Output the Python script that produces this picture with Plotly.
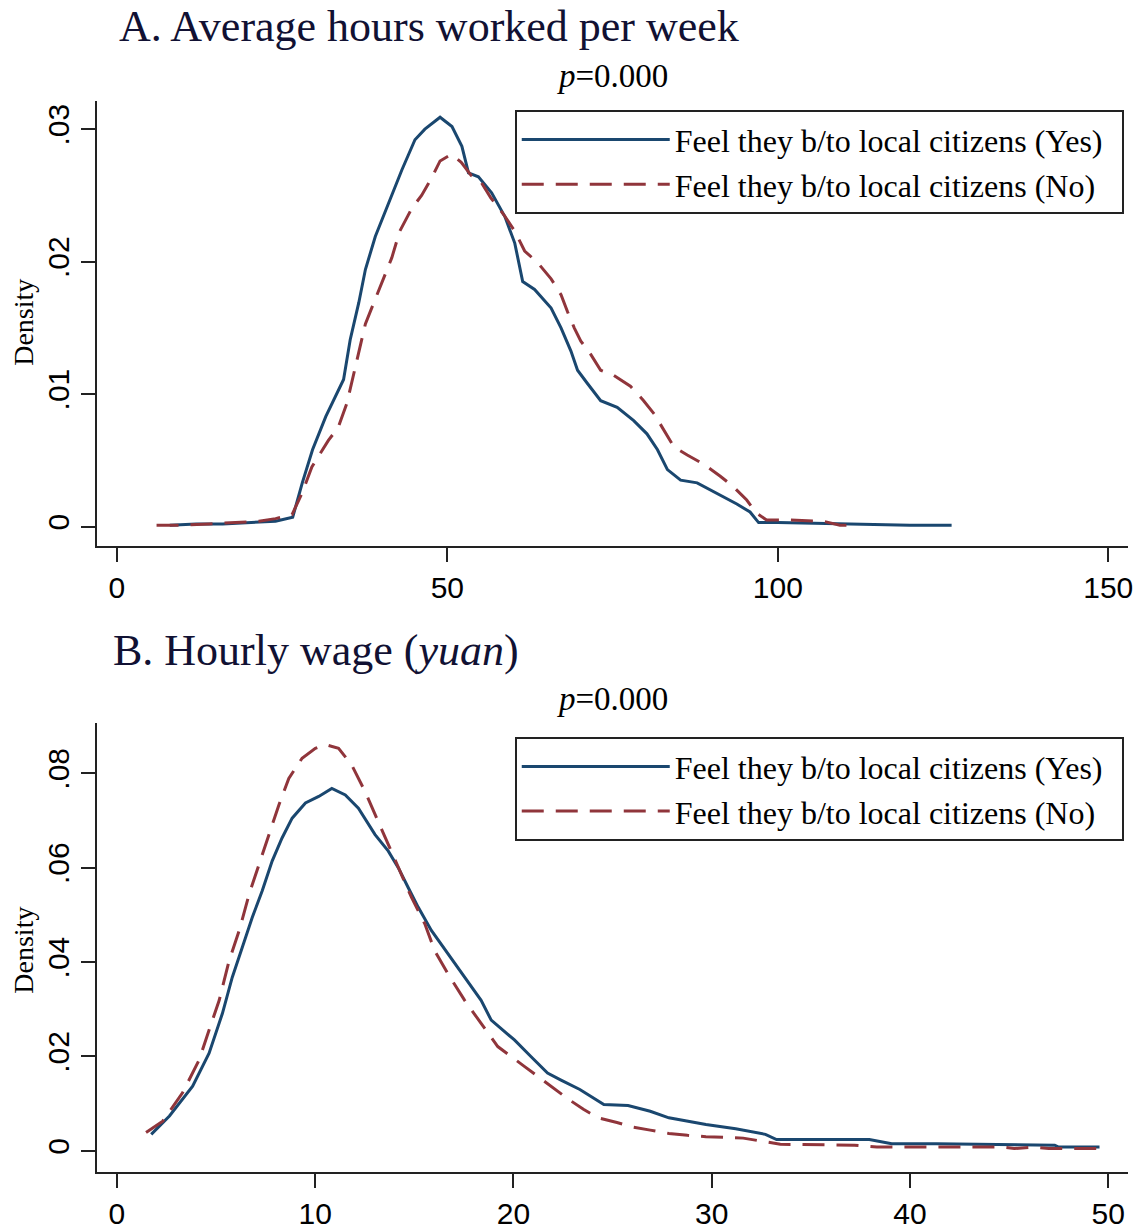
import plotly.graph_objects as go

W, H = 1147, 1230

# ---------------- data ----------------
hours_yes_x = [8, 12, 16, 20, 24, 26.6, 28.05, 29.6, 31.6, 34.3, 35.3, 36.6, 37.6, 39.1, 41.1, 43.1, 45.1,
               46.6, 48.9, 50.7, 52.2, 53.2, 54.7, 56.7, 58.7, 60.2, 61.4, 63.2, 65.7, 67.2, 68.7, 69.7,
               71.2, 73.2, 75.7, 78.2, 80.2, 81.8, 83.3, 85.3, 87.8, 90.8, 93.8, 95.8, 97.1, 100, 110,
               120, 126.3]
hours_yes_y = [0.0001, 0.0002, 0.0002, 0.0003, 0.0004, 0.0007, 0.0033, 0.0058, 0.0083, 0.0111, 0.0141,
               0.0169, 0.0194, 0.0219, 0.0244, 0.0269, 0.0292, 0.0300, 0.0309, 0.0302, 0.0287, 0.0267,
               0.0264, 0.0252, 0.0234, 0.0214, 0.0185, 0.0179, 0.0165, 0.0150, 0.01325, 0.0118, 0.0108,
               0.0095, 0.0090, 0.0080, 0.0070, 0.0058, 0.0043, 0.0035, 0.0033, 0.0025, 0.0017, 0.0011,
               0.0003, 0.0003, 0.0002, 0.0001, 0.0001]

hours_no_x = [6, 10, 14, 18, 21.5, 24, 26.5, 28.0, 29.5, 32.0, 33.5, 34.8, 35.8, 36.6, 37.6, 38.8, 40.6,
              41.6, 42.8, 44.6, 46.1, 47.6, 48.9, 50.6, 52.1, 53.6, 55.1, 56.6, 58.6, 60.2, 61.7, 63.7,
              65.7, 67.2, 68.2, 69.2, 70.2, 71.7, 73.2, 75.2, 77.7, 79.7, 81.3, 82.8, 84.3, 86.3, 88.8,
              91.3, 93.3, 95.3, 96.8, 98.3, 101.3, 106.9, 109.4, 111.9]
hours_no_y = [0.0001, 0.0001, 0.0002, 0.0003, 0.0004, 0.0006, 0.0009, 0.0025, 0.0045, 0.0065, 0.0075,
              0.0093, 0.0115, 0.0133, 0.0153, 0.0168, 0.0190, 0.0203, 0.0223, 0.0240, 0.0250, 0.0263,
              0.0276, 0.0281, 0.0275, 0.0265, 0.0260, 0.0248, 0.0235, 0.0223, 0.0208, 0.0199, 0.0187,
              0.0175, 0.0162, 0.0150, 0.0140, 0.0130, 0.0118, 0.0114, 0.0106, 0.0095, 0.0085, 0.0073,
              0.0060, 0.0054, 0.0047, 0.0038, 0.0030, 0.0020, 0.0010, 0.0005, 0.0005, 0.0004, 0.0001,
              0.0001]

wage_yes_x = [1.73, 2.65, 3.82, 4.65, 5.32, 5.82, 6.33, 6.83, 7.33, 7.83, 8.33, 8.84, 9.51, 10.18, 10.84,
              11.52, 12.18, 13.02, 13.69, 14.19, 14.69, 15.2, 15.86, 16.7, 17.54, 18.37, 18.88, 20.05,
              20.88, 21.72, 22.4, 23.35, 24.56, 25.78, 26.9, 27.84, 29.71, 31.21, 32.71, 33.27, 37.95,
              39.08, 41.33, 47.3, 47.5, 49.56]
wage_yes_y = [0.0035, 0.0074, 0.0137, 0.0207, 0.0291, 0.0368, 0.0432, 0.0495, 0.0551, 0.0614, 0.0663,
              0.0705, 0.0737, 0.0751, 0.0768, 0.0754, 0.0726, 0.0670, 0.0635, 0.0600, 0.0558, 0.0516,
              0.0467, 0.0417, 0.0368, 0.0319, 0.0277, 0.0235, 0.0200, 0.0165, 0.0150, 0.0130, 0.0098,
              0.0096, 0.0084, 0.0070, 0.0056, 0.0047, 0.0035, 0.0024, 0.0024, 0.0015, 0.0015, 0.0012,
              0.0008, 0.0008]

wage_no_x = [1.47, 2.31, 3.31, 4.15, 4.65, 5.16, 5.66, 6.17, 6.67, 7.17, 7.67, 8.17, 8.67, 9.34, 10.01,
             10.51, 11.18, 11.85, 12.52, 13.18, 13.69, 14.19, 14.86, 15.53, 16.03, 16.7, 17.54, 18.37,
             19.21, 20.55, 21.89, 22.79, 23.53, 24.28, 25.22, 25.97, 26.9, 27.84, 28.78, 29.71, 31.59,
             32.71, 33.46, 37.2, 38.33, 44.69, 45.26, 46.3, 47.0, 49.56]
wage_no_y = [0.0039, 0.0063, 0.0123, 0.0193, 0.0256, 0.0319, 0.0403, 0.0467, 0.0544, 0.0607, 0.0670,
             0.0733, 0.0789, 0.0832, 0.0853, 0.0861, 0.0853, 0.0817, 0.0761, 0.0698, 0.0649, 0.0600,
             0.0537, 0.0481, 0.0424, 0.0375, 0.0319, 0.0270, 0.0221, 0.0179, 0.0137, 0.0109, 0.0088,
             0.0070, 0.0060, 0.0051, 0.0044, 0.0037, 0.0033, 0.0030, 0.0027, 0.0019, 0.0014, 0.0012,
             0.0008, 0.0008, 0.0005, 0.0008, 0.0005, 0.0005]

series_names = ["Feel they b/to local citizens (Yes)", "Feel they b/to local citizens (No)"]
hours_xticks = [0, 50, 100, 150]
hours_yticks = [0, 0.01, 0.02, 0.03]
hours_yticklabels = ["0", ".01", ".02", ".03"]
wage_xticks = [0, 10, 20, 30, 40, 50]
wage_yticks = [0, 0.02, 0.04, 0.06, 0.08]
wage_yticklabels = ["0", ".02", ".04", ".06", ".08"]

# ---------------- style ----------------
NAVY = "#1a476f"
MAROON = "#90353b"
SERIF = "Liberation Serif"
SANS = "Liberation Sans"
AXC = "#222222"


def px(xp):
    return xp / W


def py(yp):
    return 1 - yp / H


fig = go.Figure()

fig.add_trace(go.Scatter(x=hours_yes_x, y=hours_yes_y, mode="lines", name=series_names[0],
                         line=dict(color=NAVY, width=3), xaxis="x", yaxis="y", legend="legend"))
fig.add_trace(go.Scatter(x=hours_no_x, y=hours_no_y, mode="lines", name=series_names[1],
                         line=dict(color=MAROON, width=3, dash="22px,12px"), xaxis="x", yaxis="y",
                         legend="legend"))
fig.add_trace(go.Scatter(x=wage_yes_x, y=wage_yes_y, mode="lines", name=series_names[0],
                         line=dict(color=NAVY, width=3), xaxis="x2", yaxis="y2", legend="legend2"))
fig.add_trace(go.Scatter(x=wage_no_x, y=wage_no_y, mode="lines", name=series_names[1],
                         line=dict(color=MAROON, width=3, dash="22px,12px"), xaxis="x2", yaxis="y2",
                         legend="legend2"))

xdom = [px(97.5), px(1133)]
axis_common = dict(showline=True, linecolor=AXC, linewidth=2, ticks="outside", ticklen=14,
                   tickwidth=2, tickcolor=AXC, showgrid=False, zeroline=False,
                   tickfont=dict(family=SANS, size=30, color="black"), mirror=False)

legend_common = dict(xanchor="left", yanchor="top", bordercolor="#222222", borderwidth=2,
                     bgcolor="white", font=dict(family=SERIF, size=32, color="black"),
                     itemwidth=148, tracegroupgap=0, orientation="h", entrywidth=442,
                     entrywidthmode="pixels")

fig.update_layout(
    width=W, height=H,
    margin=dict(l=0, r=0, t=0, b=0),
    paper_bgcolor="white", plot_bgcolor="white",
    xaxis=dict(domain=xdom, anchor="y", range=[-3.0, 153.0], tickvals=hours_xticks, **axis_common),
    yaxis=dict(domain=[py(550), py(102)], anchor="x", range=[-0.0015, 0.0321],
               tickvals=hours_yticks, ticktext=hours_yticklabels, tickangle=-90, **axis_common),
    xaxis2=dict(domain=xdom, anchor="y2", range=[-1.0, 51.0], tickvals=wage_xticks, **axis_common),
    yaxis2=dict(domain=[py(1179.5), py(728)], anchor="x2", range=[-0.00444, 0.0906],
                tickvals=wage_yticks, ticktext=wage_yticklabels, tickangle=-90, **axis_common),
    legend=dict(x=px(517), y=py(111), **legend_common),
    legend2=dict(x=px(517), y=py(742), **legend_common),
    showlegend=True,
)

TITLE_C = "#111133"
annots = [
    dict(text="A. Average hours worked per week", x=px(118), y=py(27), xanchor="left", yanchor="middle",
         font=dict(family=SERIF, size=44, color=TITLE_C)),
    dict(text="<i>p</i>=0.000", x=px(615), y=py(77), xanchor="center", yanchor="middle",
         font=dict(family=SERIF, size=33, color="black")),
    dict(text="B. Hourly wage (<i>yuan</i>)", x=px(111), y=py(655), xanchor="left", yanchor="middle",
         font=dict(family=SERIF, size=44, color=TITLE_C)),
    dict(text="<i>p</i>=0.000", x=px(615), y=py(704), xanchor="center", yanchor="middle",
         font=dict(family=SERIF, size=33, color="black")),
    dict(text="Density", x=px(24), y=py(324), xanchor="center", yanchor="middle", textangle=-90,
         font=dict(family=SERIF, size=28, color="black")),
    dict(text="Density", x=px(24), y=py(956), xanchor="center", yanchor="middle", textangle=-90,
         font=dict(family=SERIF, size=28, color="black")),
]
for a in annots:
    fig.add_annotation(xref="paper", yref="paper", showarrow=False, **a)

fig.write_html("out.html")
